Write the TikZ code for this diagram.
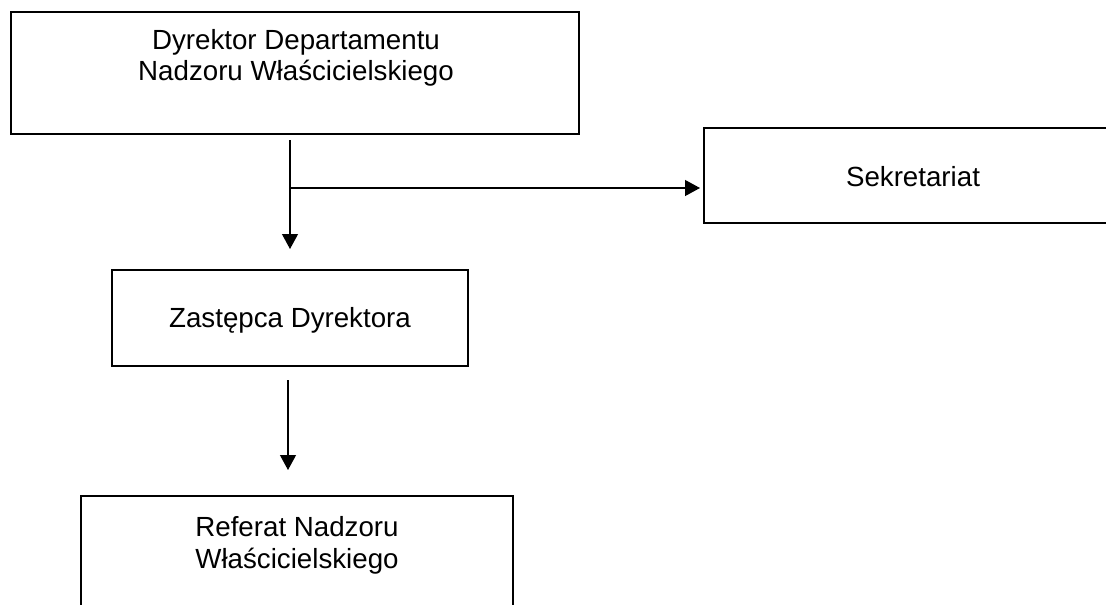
\documentclass[tikz,border=0pt]{standalone}
\usepackage{fontspec}
\setmainfont{Liberation Sans}
\usetikzlibrary{arrows.meta}
\tikzset{
  box/.style={draw=black, line width=2pt, fill=white, inner sep=0pt, rectangle},
  lbl/.style={anchor=base, inner sep=0pt, font=\fontsize{27.7}{33}\selectfont},
  conn/.style={line width=1.2pt, -{Triangle[length=15pt,width=16pt]}},
  link/.style={line width=1.2pt}
}
\begin{document}
\begin{tikzpicture}[x=1pt,y=-1pt]
\useasboundingbox (0,0) rectangle (1106,605);
\fill[white] (0,0) rectangle (1106,605);
\clip (0,0) rectangle (1106,605);
% boxes
\node[box, minimum width=568pt, minimum height=122pt] (dyr) at (295,72.5) {};
\node[box, minimum width=418pt, minimum height=95pt] (sek) at (913,175.5) {};
\node[box, minimum width=356pt, minimum height=96pt] (zas) at (290,318) {};
\node[box, minimum width=432pt, minimum height=160pt] (ref) at (297,576) {};
% texts
\node[lbl] (dyrA) at (296,49.5) {Dyrektor Departamentu};
\node[lbl] (dyrB) at (296,80.5) {Nadzoru Właścicielskiego};
\node[lbl] (sekA) at (913,186) {Sekretariat};
\node[lbl] (zasA) at (290,327.5) {Zastępca Dyrektora};
\node[lbl] (refA) at (297,536) {Referat Nadzoru};
\node[lbl] (refB) at (297,568) {Właścicielskiego};
% connector points
\coordinate (c1) at (290,140);
\coordinate (c1e) at (290,249);
\coordinate (br) at (290,188);
\coordinate (br2) at (sek.west |- br);
\coordinate (c2) at (288,380);
\coordinate (c2e) at (288,470);
\draw[conn] (c1) -- (c1e);
\draw[conn, shorten >=3pt] (br) -- (br2);
\draw[conn] (c2) -- (c2e);
\end{tikzpicture}
\end{document}
